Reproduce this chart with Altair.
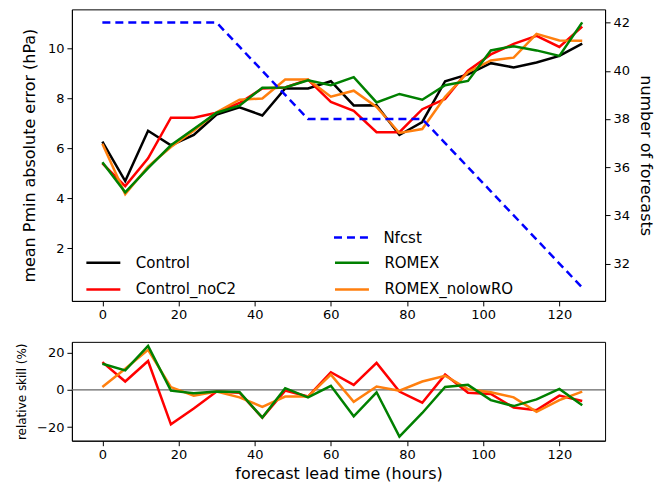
import altair as alt
import pandas as pd

lead = list(range(0, 127, 6))

control = [6.27, 4.69, 6.70, 6.12, 6.53, 7.35, 7.64, 7.31, 8.39, 8.39, 8.68, 7.71,
           7.72, 6.53, 7.05, 8.68, 8.95, 9.40, 9.23, 9.43, 9.69, 10.18]
control_noc2 = [5.40, 4.49, 5.60, 7.22, 7.22, 7.42, 7.81, 8.39, 8.43, 8.74, 7.85, 7.50,
                6.64, 6.64, 7.56, 7.97, 9.10, 9.75, 10.17, 10.49, 10.05, 10.86]
romex = [5.44, 4.24, 5.21, 6.12, 6.77, 7.42, 7.70, 8.42, 8.43, 8.72, 8.52, 8.84,
         7.83, 8.17, 7.94, 8.52, 8.69, 9.91, 10.08, 9.91, 9.69, 11.03]
romex_nolowro = [6.18, 4.17, 5.27, 6.05, 6.70, 7.44, 7.94, 7.99, 8.75, 8.75, 8.06, 8.30,
                 7.65, 6.61, 6.77, 8.06, 9.04, 9.51, 9.62, 10.57, 10.31, 10.30]
nfcst = [42, 42, 42, 42, 42, 42, 41, 40, 39, 38, 38, 38,
         38, 38, 38, 37, 36, 35, 34, 33, 32, 31]

skill_noc2 = [14.9, 4.5, 15.5, -18.5, -10.0, -0.9, -1.5, -14.9, -0.4, -3.6, 9.5, 2.7,
              14.5, -0.9, -6.9, 8.2, -1.5, -2.2, -9.5, -10.9, -3.1, -6.0]
skill_nolowro = [1.5, 11.3, 21.5, 1.5, -3.1, -0.9, -4.0, -9.1, -3.6, -3.6, 8.2, -6.4,
                 1.8, -0.4, 4.5, 7.6, 0.4, -1.3, -4.0, -11.8, -5.5, -0.9]
skill_romex = [14.0, 10.5, 23.6, -0.4, -1.8, -0.9, -1.1, -14.9, 0.9, -4.0, 2.2, -14.2,
               -1.3, -25.1, -12.4, 1.6, 2.7, -5.5, -8.7, -5.1, 0.5, -8.2]

series_names = ["Control", "Control_noC2", "ROMEX_nolowRO", "ROMEX"]  # draw order
series_vals = [control, control_noc2, romex_nolowro, romex]
legend_order = ["Control", "Control_noC2", "ROMEX", "ROMEX_nolowRO"]
legend_colors = ["black", "red", "green", "#ff7f0e"]

skill_names = ["Control_noC2", "ROMEX_nolowRO", "ROMEX"]
skill_vals = [skill_noc2, skill_nolowro, skill_romex]
skill_colors = ["red", "#ff7f0e", "green"]

FONT = "DejaVu Sans"

err_df = pd.DataFrame(
    [{"lead": h, "value": v, "series": n, "k": i}
     for i, (n, vals) in enumerate(zip(series_names, series_vals))
     for h, v in zip(lead, vals)]
)
nf_df = pd.DataFrame({"lead": lead, "n": nfcst, "lbl": ["Nfcst"] * len(lead)})
skill_df = pd.DataFrame(
    [{"lead": h, "value": v, "series": n}
     for n, vals in zip(skill_names, skill_vals)
     for h, v in zip(lead, vals)]
)

xscale = alt.Scale(domain=[-8, 132], nice=False, zero=False)
xaxis_top = alt.Axis(values=[0, 20, 40, 60, 80, 100, 120], title=None)
xaxis_bot = alt.Axis(values=[0, 20, 40, 60, 80, 100, 120], title="forecast lead time (hours)",
                     titlePadding=4)

lines = alt.Chart(err_df).mark_line(strokeWidth=2.5).encode(
    x=alt.X("lead:Q", scale=xscale, axis=xaxis_top),
    y=alt.Y("value:Q", scale=alt.Scale(domain=[-0.1, 11.55], nice=False, zero=False),
            axis=alt.Axis(values=[2, 4, 6, 8, 10], title="mean Pmin absolute error (hPa)",
                          orient="left", titlePadding=10)),
    color=alt.Color("series:N",
                    scale=alt.Scale(domain=legend_order, range=legend_colors),
                    legend=alt.Legend(title=None, orient="none", legendX=13, legendY=235,
                                      columns=2, columnPadding=93, rowPadding=-9,
                                      symbolType="stroke", symbolSize=1156,
                                      symbolStrokeWidth=2.5, labelFontSize=15,
                                      labelOffset=14, labelFont=FONT, labelColor="black",
                                      padding=0)),
    detail="k:N",
)

nf = alt.Chart(nf_df).mark_line(strokeWidth=2.5, strokeDash=[8, 5]).encode(
    x=alt.X("lead:Q", scale=xscale, axis=xaxis_top),
    y=alt.Y("n:Q", scale=alt.Scale(domain=[30.45, 42.55], nice=False, zero=False),
            axis=alt.Axis(values=[32, 34, 36, 38, 40, 42], title="number of forecasts",
                          orient="right", titlePadding=8)),
    color=alt.Color("lbl:N", scale=alt.Scale(domain=["Nfcst"], range=["blue"]),
                    legend=alt.Legend(title=None, orient="none", legendX=261, legendY=210,
                                      symbolType="stroke", symbolSize=1156,
                                      symbolStrokeWidth=2.5, symbolDash=[8, 5],
                                      labelFontSize=15, labelOffset=14, labelFont=FONT,
                                      labelColor="black", padding=0)),
)

top = alt.layer(lines, nf).resolve_scale(y="independent", color="independent").properties(
    width=534, height=292
)

zero = alt.Chart(pd.DataFrame({"z": [0]})).mark_rule(color="#666666", strokeWidth=1.2).encode(
    y=alt.Y("z:Q")
)
skill_lines = alt.Chart(skill_df).mark_line(strokeWidth=2.5).encode(
    x=alt.X("lead:Q", scale=xscale, axis=xaxis_bot),
    y=alt.Y("value:Q", scale=alt.Scale(domain=[-27.3, 25.8], nice=False, zero=False),
            axis=alt.Axis(values=[-20, 0, 20], title="relative skill (%)", titleFontSize=12,
                          titlePadding=8)),
    color=alt.Color("series:N", scale=alt.Scale(domain=skill_names, range=skill_colors),
                    legend=None),
)
bottom = alt.layer(zero, skill_lines).properties(width=534, height=99)

chart = alt.vconcat(top, bottom, spacing=17).resolve_scale(color="independent").properties(
    padding={"left": 7, "top": 0, "right": 0, "bottom": 0}
).configure_view(stroke="black", strokeWidth=1).configure_axis(
    labelFont=FONT, titleFont=FONT, labelFontSize=13, titleFontSize=16,
    labelColor="black", titleColor="black", titleFontWeight="normal",
    tickColor="black", domainColor="black", tickSize=5, labelPadding=3, grid=False,
)

chart.save("out.html", embed_options={"renderer": "svg", "actions": False})
